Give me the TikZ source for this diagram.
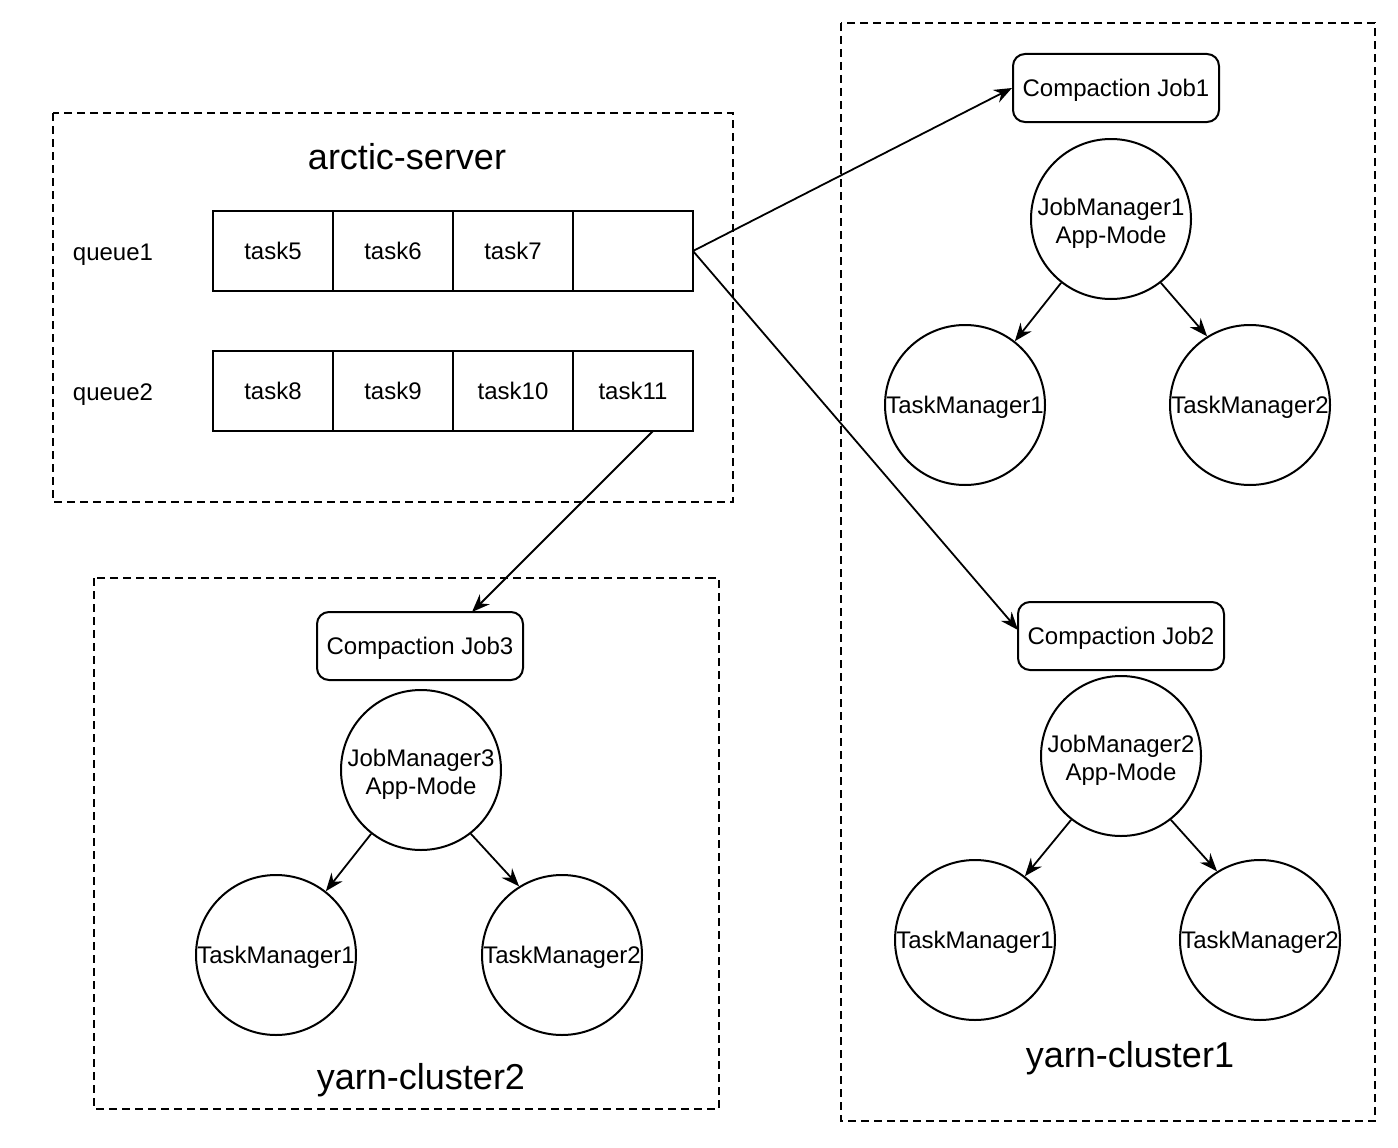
\documentclass[tikz,border=0pt]{standalone}
\usepackage{fontspec}
\setmainfont{Liberation Sans}
\usetikzlibrary{arrows.meta}
\begin{document}
\begin{tikzpicture}[x=1pt,y=-1pt,
  line width=2pt,
  txt/.style={font=\fontsize{24}{28}\selectfont,text height=21pt,text depth=5pt},
  big/.style={font=\fontsize{36}{40}\selectfont},
  grp/.style={draw,dash pattern=on 8pt off 5pt},
  cell/.style={draw,minimum width=120pt,minimum height=80pt,inner sep=0pt,txt},
  job/.style={draw,rounded corners=12pt,minimum width=206pt,minimum height=68pt,inner sep=0pt,txt},
  mgr/.style={draw,circle,minimum size=160pt,inner sep=0pt,txt,align=center},
  jmgr/.style={mgr,text height=53pt,text depth=5pt},
  arr/.style={-{Stealth[length=18pt,width=14pt,inset=6pt]},line width=1.8pt}]
\useasboundingbox (0,0) rectangle (1398,1148);
% groups
\draw[grp] (53,113) rectangle (733,502);
\draw[grp] (841,23) rectangle (1375,1121);
\draw[grp] (94,578) rectangle (719,1109);
\node[big] (title) at (407,157) {arctic-server};
\node[big] (yc1) at (1130,1058) {yarn-cluster1};
\node[big] (yc2) at (421,1080) {yarn-cluster2};
% queues
\node[txt] (q1) at (113,252) {queue1};
\node[txt] (q2) at (113,392) {queue2};
\node[cell] (t5) at (273,251) {task5};
\node[cell] (t6) at (393,251) {task6};
\node[cell] (t7) at (513,251) {task7};
\node[cell] (te) at (633,251) {};
\node[cell] (t8) at (273,391) {task8};
\node[cell] (t9) at (393,391) {task9};
\node[cell] (t10) at (513,391) {task10};
\node[cell] (t11) at (633,391) {task11};
% cluster1
\node[job] (j1) at (1116,88) {Compaction Job1};
\node[jmgr] (jm1) at (1111,219) {JobManager1\\App-Mode};
\node[mgr] (tm11) at (965,405) {TaskManager1};
\node[mgr] (tm12) at (1250,405) {TaskManager2};
\node[job] (j2) at (1121,636) {Compaction Job2};
\node[jmgr] (jm2) at (1121,756) {JobManager2\\App-Mode};
\node[mgr] (tm21) at (975,940) {TaskManager1};
\node[mgr] (tm22) at (1260,940) {TaskManager2};
% cluster2
\node[job] (j3) at (420,646) {Compaction Job3};
\node[jmgr] (jm3) at (421,770) {JobManager3\\App-Mode};
\node[mgr] (tm31) at (276,955) {TaskManager1};
\node[mgr] (tm32) at (562,955) {TaskManager2};
% connectors
\coordinate (q1out) at (693,251);
\coordinate (t11out) at (653,431);
\coordinate (j2in) at (1018,630);
\coordinate (j3in) at (472,612);
\draw[arr] (q1out) -- (j1.west);
\draw[arr] (q1out) -- (j2in);
\draw[arr] (t11out) -- (j3in);
\draw[arr] (jm1.-128) -- (tm11.52);
\draw[arr] (jm1.-52) -- (tm12.122);
\draw[arr] (jm2.-128) -- (tm21.52);
\draw[arr] (jm2.-52) -- (tm22.122);
\draw[arr] (jm3.-128) -- (tm31.52);
\draw[arr] (jm3.-52) -- (tm32.122);
\end{tikzpicture}
\end{document}
